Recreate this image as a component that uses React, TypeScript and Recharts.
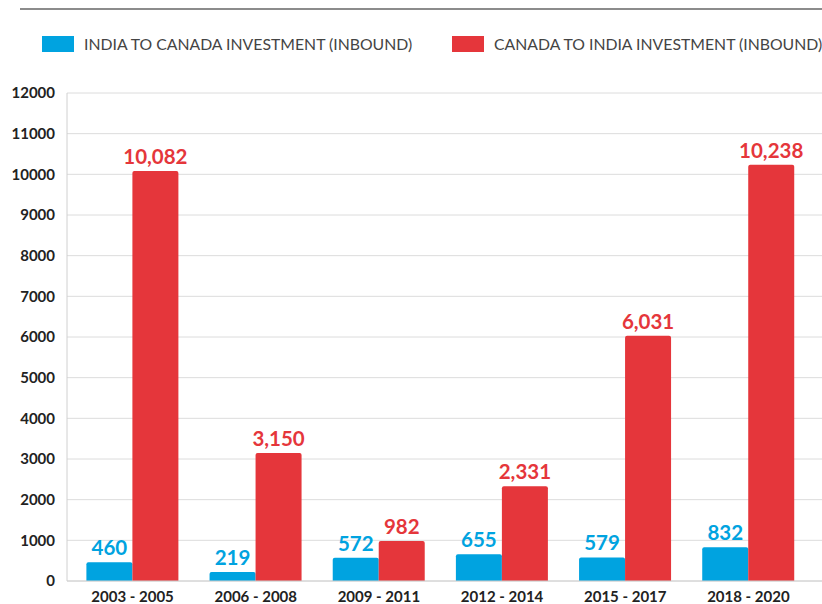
import React from 'react';
import { BarChart, Bar, XAxis, YAxis, CartesianGrid, LabelList } from 'recharts';

const categories = ['2003 - 2005', '2006 - 2008', '2009 - 2011', '2012 - 2014', '2015 - 2017', '2018 - 2020'];
const indiaToCanada = [460, 219, 572, 655, 579, 832];
const canadaToIndia = [10082, 3150, 982, 2331, 6031, 10238];
const yTicks = [0, 1000, 2000, 3000, 4000, 5000, 6000, 7000, 8000, 9000, 10000, 11000, 12000];
const seriesNames = ['INDIA TO CANADA INVESTMENT (INBOUND)', 'CANADA TO INDIA INVESTMENT (INBOUND)'];

const BLUE = '#00a3e0';
const RED = '#e5363b';

const data = categories.map((c, i) => ({ name: c, a: indiaToCanada[i], b: canadaToIndia[i] }));

const makeLabel = (color: string) => (props: any) => {
  const { x, y, width, value } = props;
  return (
    <text x={x + width / 2} y={y - 7} textAnchor="middle" fill={color} fontSize={20.5} fontWeight={700}
      fontFamily="Lato, 'Open Sans', sans-serif">
      {Number(value).toLocaleString('en-US')}
    </text>
  );
};

export default function App() {
  return (
    <div style={{ position: 'absolute', left: 0, top: 0, width: 822, height: 604, background: '#fff', fontFamily: 'Lato, sans-serif' }}>
      <div style={{ position: 'absolute', left: 20, top: 8, width: 802, height: 2, background: '#8c8c8c' }} />
      <div style={{ position: 'absolute', left: 42, top: 36, width: 32, height: 16, background: BLUE }} />
      <div style={{ position: 'absolute', left: 84, top: 34, fontSize: 15.8, color: '#444', lineHeight: '19px', whiteSpace: 'nowrap' }}>{seriesNames[0]}</div>
      <div style={{ position: 'absolute', left: 452, top: 36, width: 32, height: 16, background: RED }} />
      <div style={{ position: 'absolute', left: 494, top: 34, fontSize: 15.8, color: '#444', lineHeight: '19px', whiteSpace: 'nowrap' }}>{seriesNames[1]}</div>
      <div style={{ position: 'absolute', left: 0, top: 0 }}>
        <BarChart width={822} height={604} data={data} margin={{ top: 93, right: 0, bottom: 0, left: 0 }}
          barCategoryGap="12.5%" barGap={0}>
          <CartesianGrid vertical={false} stroke="#dcdcdc" />
          <XAxis dataKey="name" height={23} tickLine={false} tickSize={0} tickMargin={10} axisLine={{ stroke: '#d0d0d0' }}
            padding={{ left: 4, right: 12 }}
            tick={{ fill: '#222', fontSize: 15, fontWeight: 700, fontFamily: 'Lato, sans-serif' }} interval={0} />
          <YAxis domain={[0, 12000]} ticks={yTicks} width={67} tickLine={false} tickSize={0} tickMargin={12}
            axisLine={{ stroke: '#d0d0d0' }} interval={0}
            tick={{ fill: '#222', fontSize: 15, fontWeight: 700, fontFamily: 'Lato, sans-serif' }} />
          <Bar dataKey="a" fill={BLUE} radius={[2, 2, 0, 0]} isAnimationActive={false}>
            <LabelList dataKey="a" content={makeLabel(BLUE)} />
          </Bar>
          <Bar dataKey="b" fill={RED} radius={[2, 2, 0, 0]} isAnimationActive={false}>
            <LabelList dataKey="b" content={makeLabel(RED)} />
          </Bar>
        </BarChart>
      </div>
    </div>
  );
}
